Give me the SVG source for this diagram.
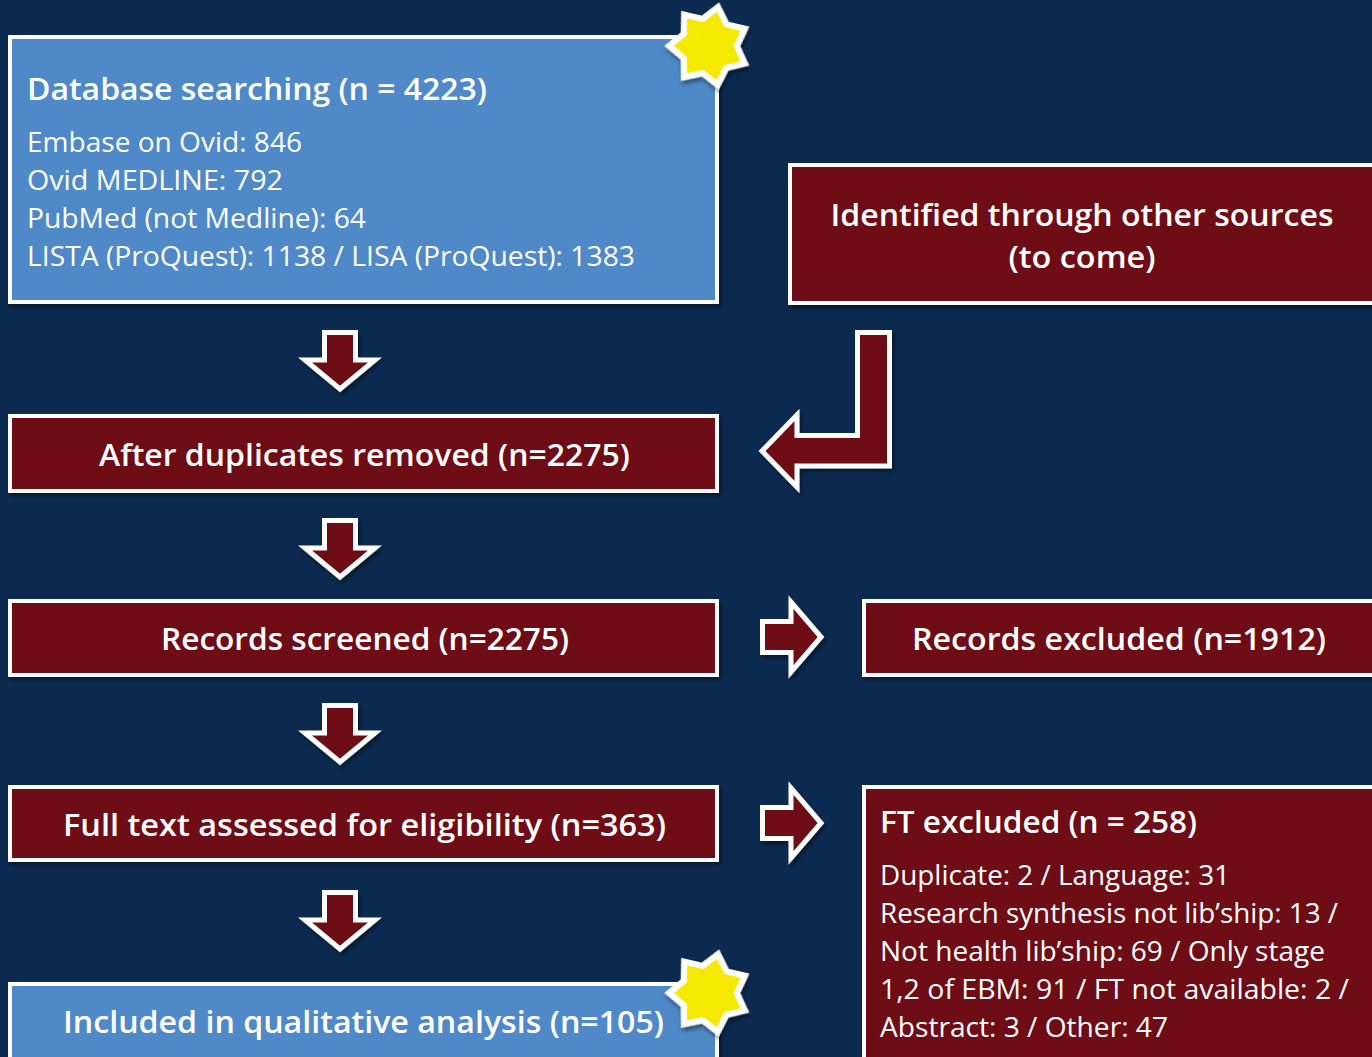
<svg xmlns="http://www.w3.org/2000/svg" width="1372" height="1057" viewBox="0 0 1372 1057">
<defs>
<style>
.bg{fill:#0C2A50}
.blue{fill:#4F89C8;stroke:#FFFFFF;stroke-width:4}
.red{fill:#6E0F12;stroke:#FFFFFF;stroke-width:4}
.arrow{fill:#6E0F12;stroke:#FFFFFF;stroke-width:5;stroke-linejoin:miter}
.star{fill:#F5E900;stroke:#FFFFFF;stroke-width:6;stroke-linejoin:miter}
text{fill:#FFFFFF;font-family:"Open Sans","Noto Sans","Liberation Sans",sans-serif}
.h{font-size:30px;font-weight:600}
.b{font-size:27px}
.c{text-anchor:middle}
</style>
<filter id="sh" x="-10%" y="-10%" width="130%" height="130%">
<feDropShadow dx="2" dy="3" stdDeviation="2" flood-color="#000000" flood-opacity="0.45"/>
</filter>
<path id="down" d="M-15.5,2.5 L15.5,2.5 L15.5,30 L35,30 L0,59 L-35,30 L-15.5,30 Z"/>
<path id="right" d="M2.5,-15.5 L31,-15.5 L31,-35 L61,0 L31,35 L31,15.5 L2.5,15.5 Z"/>
<polygon id="star7" points="0,-40 12.15,-25.23 31.27,-24.94 27.3,-6.23 39,8.9 21.89,17.46 17.35,36.04 0,28 -17.35,36.04 -21.89,17.46 -39,8.9 -27.3,-6.23 -31.27,-24.94 -12.15,-25.23"/>
</defs>
<rect class="bg" x="0" y="0" width="1372" height="1057"/>

<g id="connectors">
<use href="#down" class="arrow" filter="url(#sh)" transform="translate(340,330)"/>
<use href="#down" class="arrow" filter="url(#sh)" transform="translate(340,518)"/>
<use href="#down" class="arrow" filter="url(#sh)" transform="translate(340,703)"/>
<use href="#down" class="arrow" filter="url(#sh)" transform="translate(340,890)"/>
<use href="#right" class="arrow" filter="url(#sh)" transform="translate(760,637)"/>
<use href="#right" class="arrow" filter="url(#sh)" transform="translate(760,823)"/>
<path class="arrow" filter="url(#sh)" d="M857.5,332.5 L889.5,332.5 L889.5,466 L797,466 L797,487 L762,451 L797,415 L797,435.5 L857.5,435.5 Z"/>
</g>

<g id="node-database">
<rect class="blue" filter="url(#sh)" x="10" y="37" width="707" height="265"/>
<text class="h" x="27" y="100" textLength="460" lengthAdjust="spacingAndGlyphs">Database searching (n = 4223)</text>
<text class="b" x="27" y="152" textLength="275" lengthAdjust="spacingAndGlyphs">Embase on Ovid: 846</text>
<text class="b" x="27" y="190" textLength="256" lengthAdjust="spacingAndGlyphs">Ovid MEDLINE: 792</text>
<text class="b" x="27" y="228" textLength="339" lengthAdjust="spacingAndGlyphs">PubMed (not Medline): 64</text>
<text class="b" x="27" y="266" textLength="608" lengthAdjust="spacingAndGlyphs">LISTA (ProQuest): 1138 / LISA (ProQuest): 1383</text>
</g>
<g id="star-top">
<use href="#star7" class="star" filter="url(#sh)" transform="translate(709,46) rotate(13)"/>
</g>

<g id="node-other">
<rect class="red" filter="url(#sh)" x="790" y="165" width="600" height="138"/>
<text class="h c" x="1082" y="226" textLength="503" lengthAdjust="spacingAndGlyphs">Identified through other sources</text>
<text class="h c" x="1082" y="268" textLength="147" lengthAdjust="spacingAndGlyphs">(to come)</text>
</g>

<g id="node-duplicates">
<rect class="red" filter="url(#sh)" x="10" y="416" width="707" height="75"/>
<text class="h c" x="364.5" y="466" textLength="531" lengthAdjust="spacingAndGlyphs">After duplicates removed (n=2275)</text>
</g>

<g id="node-screened">
<rect class="red" filter="url(#sh)" x="10" y="601" width="707" height="74"/>
<text class="h c" x="365" y="650" textLength="408" lengthAdjust="spacingAndGlyphs">Records screened (n=2275)</text>
</g>

<g id="node-excluded">
<rect class="red" filter="url(#sh)" x="864" y="601" width="600" height="74"/>
<text class="h c" x="1119" y="650" textLength="414" lengthAdjust="spacingAndGlyphs">Records excluded (n=1912)</text>
</g>

<g id="node-fulltext">
<rect class="red" filter="url(#sh)" x="10" y="787" width="707" height="73"/>
<text class="h c" x="364.5" y="836" textLength="603" lengthAdjust="spacingAndGlyphs">Full text assessed for eligibility (n=363)</text>
</g>

<g id="node-ftexcluded">
<rect class="red" filter="url(#sh)" x="864" y="787" width="600" height="320"/>
<text class="h" x="880" y="833" textLength="317" lengthAdjust="spacingAndGlyphs">FT excluded (n = 258)</text>
<text class="b" x="880" y="885" textLength="350" lengthAdjust="spacingAndGlyphs">Duplicate: 2 / Language: 31</text>
<text class="b" x="880" y="923" textLength="458" lengthAdjust="spacingAndGlyphs">Research synthesis not lib’ship: 13 /</text>
<text class="b" x="880" y="961" textLength="445" lengthAdjust="spacingAndGlyphs">Not health lib’ship: 69 / Only stage</text>
<text class="b" x="880" y="999" textLength="469" lengthAdjust="spacingAndGlyphs">1,2 of EBM: 91 / FT not available: 2 /</text>
<text class="b" x="880" y="1037" textLength="288" lengthAdjust="spacingAndGlyphs">Abstract: 3 / Other: 47</text>
</g>

<g id="node-included">
<rect class="blue" filter="url(#sh)" x="10" y="984" width="707" height="120"/>
<text class="h c" x="363.5" y="1033" textLength="601" lengthAdjust="spacingAndGlyphs">Included in qualitative analysis (n=105)</text>
</g>
<g id="star-bottom">
<use href="#star7" class="star" filter="url(#sh)" transform="translate(709,993) rotate(13)"/>
</g>
</svg>
